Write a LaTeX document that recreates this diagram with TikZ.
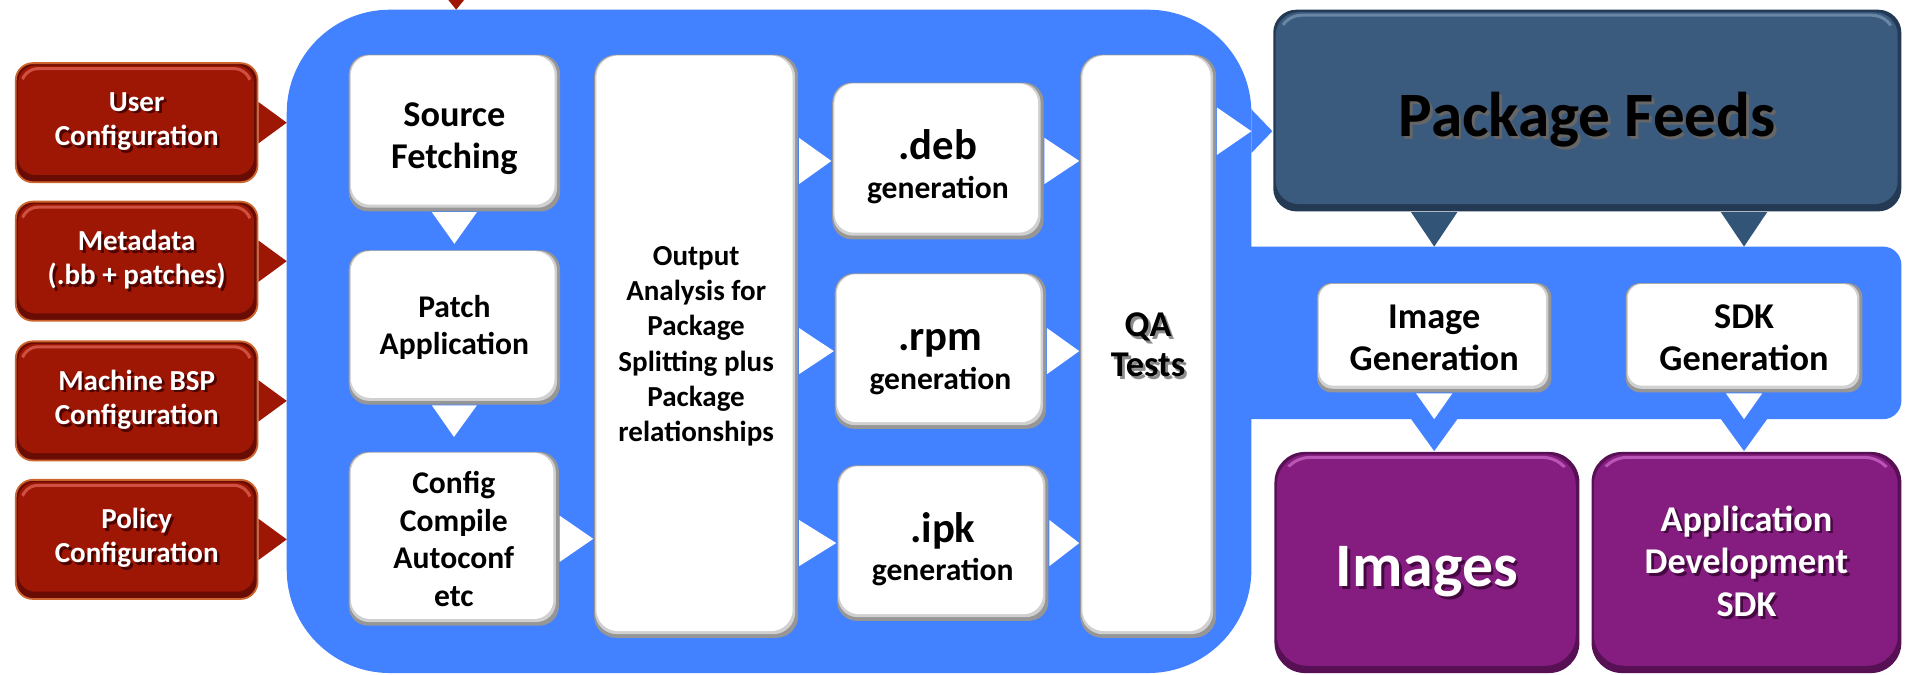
\documentclass[tikz,border=0pt]{standalone}
\usepackage{fontspec}
\setmainfont{Carlito}
\usetikzlibrary{calc}

\definecolor{panelblue}{RGB}{66,129,255}
\definecolor{boxgrayA}{RGB}{150,150,150}
\definecolor{boxgrayB}{RGB}{208,208,208}
\definecolor{redrim}{RGB}{105,12,4}
\definecolor{redface}{RGB}{158,22,4}
\definecolor{redhi}{RGB}{205,80,65}
\definecolor{redline}{RGB}{205,100,45}
\definecolor{redshadow}{RGB}{75,4,0}
\definecolor{feedrim}{RGB}{35,57,84}
\definecolor{feedface}{RGB}{58,90,126}
\definecolor{feedhi}{RGB}{105,135,165}
\definecolor{feedarrow}{RGB}{50,84,118}
\definecolor{purprim}{RGB}{88,16,84}
\definecolor{purpface}{RGB}{133,28,127}
\definecolor{purphi}{RGB}{185,85,180}
\definecolor{purpshadow}{RGB}{70,8,65}

\pgfdeclarelayer{back}
\pgfdeclarelayer{mid}
\pgfsetlayers{back,mid,main}

% text with a small drop shadow
\newcommand\shtxt[2]{\leavevmode\rlap{\hspace{0.22mm}\raisebox{-0.22mm}{\textcolor{#1}{#2}}}#2}
% a line set lower than its box, keeping the box size
\newcommand\lowerby[2]{\raisebox{-#1}[\height][\depth]{#2}}
% triangular connectors: base centre, tip, half base, colour
\newcommand\triR[4]{\fill[#4] ($(#1)+(0,-#3)$) -- ($(#1)+(0,#3)$) -- (#2) -- cycle;}
\newcommand\triD[4]{\fill[#4] ($(#1)+(-#3,0)$) -- ($(#1)+(#3,0)$) -- (#2) -- cycle;}

\begin{document}
\begin{tikzpicture}[x=0.1mm, y=-0.1mm,
  wbox/.style={rectangle, inner sep=0pt, align=center, text=black,
    rounded corners=#1, fill=boxgrayA,
    path picture={
      \fill[boxgrayB, rounded corners=#1]
        ($(path picture bounding box.north west)+(0.8,0.4)$) rectangle
        ($(path picture bounding box.south east)+(-2.5,-3)$);
      \fill[white, rounded corners=#1]
        ($(path picture bounding box.north west)+(1.8,0.8)$) rectangle
        ($(path picture bounding box.south east)+(-4.5,-5.5)$);
    }},
  wbox/.default=1.6mm,
  cbox/.style n args={4}{rectangle, inner sep=0pt, align=center,
    rounded corners=#4, fill=#1,
    path picture={
      \fill[#2, rounded corners=#4]
        ($(path picture bounding box.north west)+(2,2)$) rectangle
        ($(path picture bounding box.south east)+(-3,-6)$);
      \begin{scope}
        \clip (path picture bounding box.north west) rectangle
          ($(path picture bounding box.north east)+(0,16)$);
        \draw[#3, line width=0.25mm, rounded corners=#4]
          ($(path picture bounding box.north west)+(4.5,4.5)$) rectangle
          ($(path picture bounding box.south east)+(-5.5,-9)$);
      \end{scope}
    }},
  redbox/.style={cbox={redrim}{redface}{redhi}{1.4mm}, draw=redline,
    line width=0.15mm, text=white, minimum width=19.9mm, minimum height=9.8mm,
    font=\fontsize{6.8pt}{8pt}\selectfont\bfseries},
  purpbox/.style={cbox={purprim}{purpface}{purphi}{2.5mm}, text=white,
    minimum height=18.2mm},
  bigtxt/.style={font=\fontsize{8.5pt}{9.7pt}\selectfont\bfseries},
  midtxt/.style={font=\fontsize{7.4pt}{8.8pt}\selectfont\bfseries},
  smalltxt/.style={font=\fontsize{6.8pt}{8.25pt}\selectfont\bfseries},
  gentxt/.style={font=\fontsize{10pt}{9.1pt}\selectfont\bfseries},
]
\useasboundingbox (0,0) rectangle (1568,555);

% the blue build panel with its band towards the outputs
\begin{pgfonlayer}{back}
  \fill[panelblue, rounded corners=8.5mm] (236,8) rectangle (1030,554);
  \fill[panelblue, rounded corners=1.5mm] (990,203) rectangle (1565,345);
\end{pgfonlayer}
\coordinate (panelW) at (236,0);
\coordinate (panelE) at (1030,0);
\coordinate (bandN) at (0,203);
\coordinate (bandS) at (0,345);
\coordinate (feedin) at (0,108);
\coordinate (topin) at (375.5,0);

% inputs
\node[redbox] (user) at (112.5,101)
  {\shtxt{redshadow}{User}\\\shtxt{redshadow}{Configuration}};
\node[redbox] (meta) at (112.5,215)
  {\shtxt{redshadow}{Metadata}\\\shtxt{redshadow}{(.bb + patches)}};
\node[redbox] (bsp) at (112.5,330)
  {\shtxt{redshadow}{Machine BSP}\\\shtxt{redshadow}{Configuration}};
\node[redbox] (policy) at (112.5,444)
  {\shtxt{redshadow}{Policy}\\\shtxt{redshadow}{Configuration}};

% build steps
\node[wbox, bigtxt, minimum width=17.4mm, minimum height=12.9mm] (src) at (374,109.5)
  {\lowerby{0.45mm}{Source}\\\lowerby{0.45mm}{Fetching}};
\node[wbox, midtxt, minimum width=17.4mm, minimum height=12.7mm] (patch) at (374,269.5)
  {Patch\\Application};
\node[wbox, midtxt, minimum width=17.3mm, minimum height=14.3mm] (cfg) at (373.5,443.5)
  {Config\\Compile\\Autoconf\\etc};
\node[wbox=1.8mm, smalltxt, minimum width=16.8mm, minimum height=48mm] (out) at (573,285)
  {Output\\Analysis for\\Package\\Splitting plus\\Package\\relationships};
\node[wbox, gentxt, minimum width=17.4mm, minimum height=12.9mm] (deb) at (772,132.5)
  {\lowerby{0.5mm}{.deb}\\{\fontsize{7.4pt}{9.1pt}\selectfont\lowerby{0.5mm}{generation}}};
\node[wbox, gentxt, minimum width=17.4mm, minimum height=12.8mm] (rpm) at (774,289)
  {\lowerby{0.9mm}{.rpm}\\{\fontsize{7.4pt}{9.1pt}\selectfont\lowerby{0.9mm}{generation}}};
\node[wbox, gentxt, minimum width=17.4mm, minimum height=12.8mm] (ipk) at (776,447)
  {\lowerby{0.5mm}{.ipk}\\{\fontsize{7.4pt}{9.1pt}\selectfont\lowerby{0.5mm}{generation}}};
\node[wbox=1.8mm, font=\fontsize{8.5pt}{9.4pt}\selectfont\bfseries,
  minimum width=11.2mm, minimum height=48mm] (qa) at (945,285)
  {\shtxt{black!45}{QA}\\\shtxt{black!45}{Tests}};

% outputs
\node[cbox={feedrim}{feedface}{feedhi}{1.9mm}, text=black,
  minimum width=51.7mm, minimum height=16.6mm,
  font=\fontsize{14.8pt}{16pt}\selectfont\bfseries] (feeds) at (1306.5,91)
  {\lowerby{0.9mm}{\shtxt{black!60}{Package Feeds}}};
\node[wbox=1.2mm, font=\fontsize{8.5pt}{9.8pt}\selectfont\bfseries,
  minimum width=19.3mm, minimum height=9mm] (imggen) at (1180.5,278)
  {Image\\Generation};
\node[wbox=1.2mm, font=\fontsize{8.5pt}{9.8pt}\selectfont\bfseries,
  minimum width=19.5mm, minimum height=9mm] (sdkgen) at (1435.5,278)
  {SDK\\Generation};
\node[purpbox, minimum width=25.1mm, font=\fontsize{14.5pt}{16pt}\selectfont\bfseries]
  (img) at (1174.5,463) {\lowerby{0.9mm}{\shtxt{purpshadow}{Images}}};
\node[purpbox, minimum width=25.5mm, font=\fontsize{8.5pt}{10pt}\selectfont\bfseries]
  (sdk) at (1437.5,463)
  {\shtxt{purpshadow}{Application}\\\shtxt{purpshadow}{Development}\\\shtxt{purpshadow}{SDK}};

% blue arrows leaving the panel
\begin{pgfonlayer}{back}
  \triR{feedin -| panelE}{feedin -| feeds.west}{18}{panelblue}
  \triD{imggen.south |- bandS}{imggen.south |- img.north}{19}{panelblue}
  \triD{sdkgen.south |- bandS}{sdkgen.south |- sdk.north}{19}{panelblue}
\end{pgfonlayer}

\begin{pgfonlayer}{mid}
  % inputs into the panel
  \fill[redface] ($(topin)+(-6.5,0)$) -- ($(topin)+(6.5,0)$) -- ($(topin)+(0,8)$) -- cycle;
  \triR{user.east}{user.east -| panelW}{17}{redface}
  \triR{meta.east}{meta.east -| panelW}{17}{redface}
  \triR{bsp.east}{bsp.east -| panelW}{17}{redface}
  \triR{policy.east}{policy.east -| panelW}{17}{redface}
  % build flow
  \triD{src.south}{$(src.south)!2.6mm!(patch.north)$}{18.5}{white}
  \triD{patch.south}{$(patch.south)!2.6mm!(cfg.north)$}{18.5}{white}
  \triR{cfg.east}{cfg.east -| out.west}{19}{white}
  \triR{out.east |- deb.west}{deb.west}{19}{white}
  \triR{out.east |- rpm.west}{rpm.west}{19}{white}
  \triR{out.east |- ipk.west}{ipk.west}{19}{white}
  \triR{deb.east}{deb.east -| qa.west}{19}{white}
  \triR{rpm.east}{rpm.east -| qa.west}{19}{white}
  \triR{ipk.east}{ipk.east -| qa.west}{19}{white}
  \triR{qa.east |- feedin}{feedin -| panelE}{19.5}{white}
  % feeds into generation, generation into results
  \triD{feeds.south -| imggen.north}{imggen.north |- bandN}{19}{feedarrow}
  \triD{feeds.south -| sdkgen.north}{sdkgen.north |- bandN}{19}{feedarrow}
  \triD{imggen.south}{imggen.south |- bandS}{15}{white}
  \triD{sdkgen.south}{sdkgen.south |- bandS}{15}{white}
\end{pgfonlayer}
\end{tikzpicture}
\end{document}
